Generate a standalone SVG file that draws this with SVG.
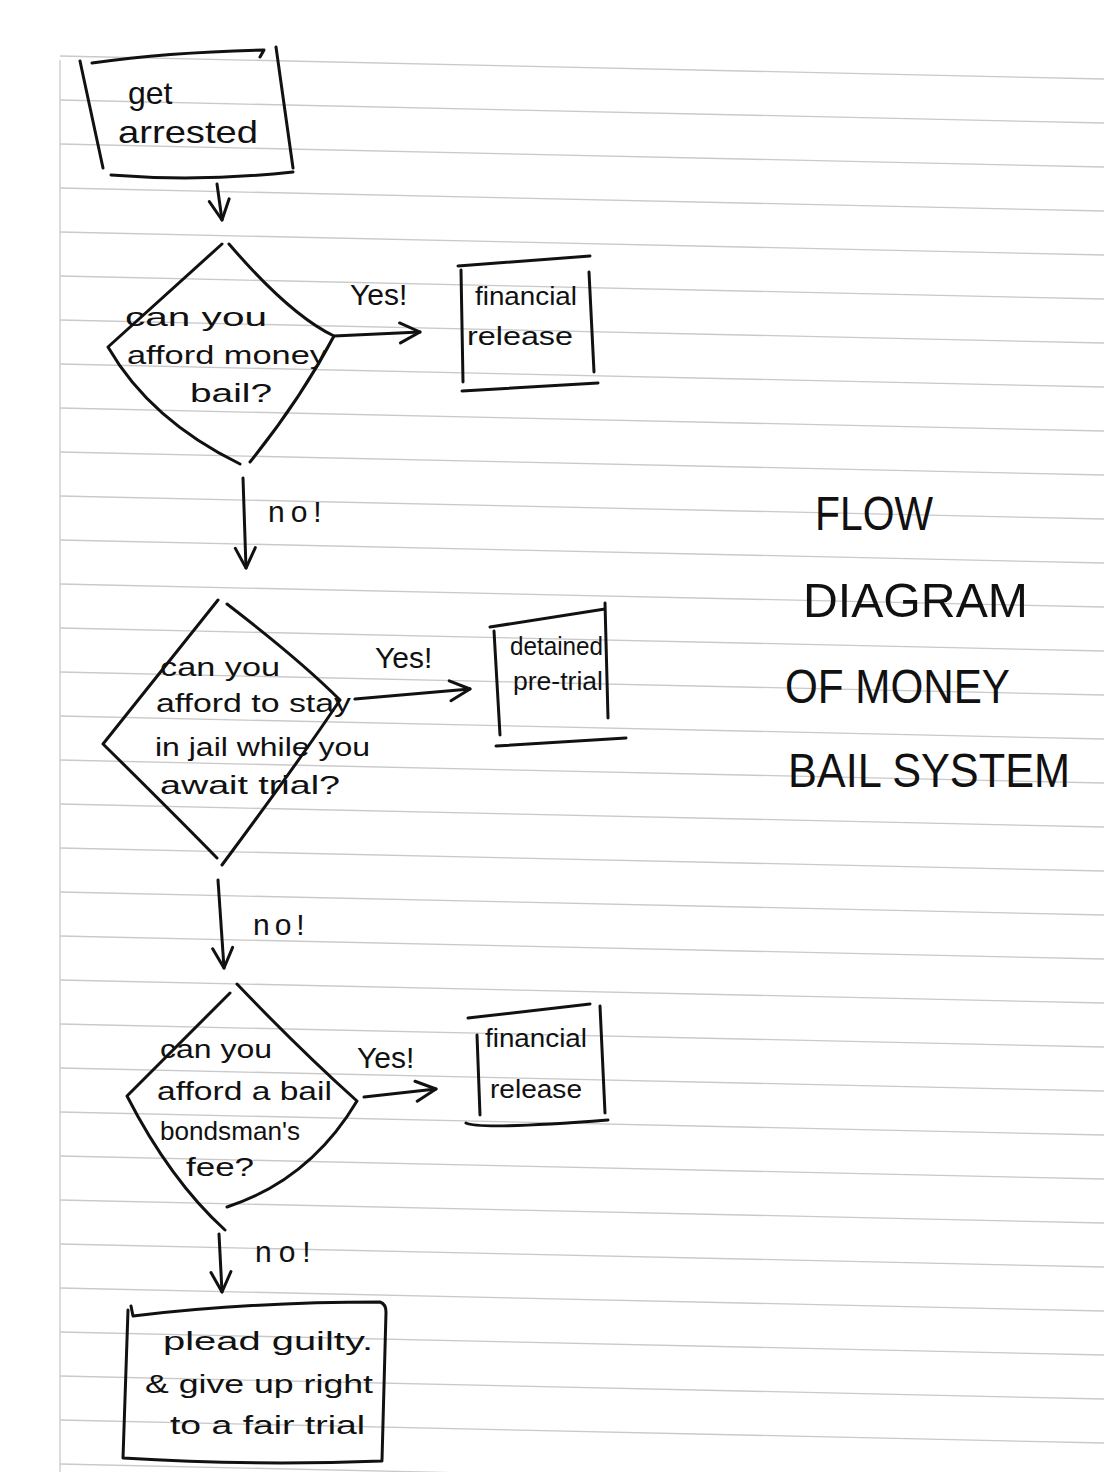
<svg xmlns="http://www.w3.org/2000/svg" width="1104" height="1472" viewBox="0 0 1104 1472">
<style>
.ink{fill:none;stroke:#111;stroke-width:3;stroke-linecap:round;stroke-linejoin:round}
.rule{stroke:#c9c9c9;stroke-width:1.3}
.t{font-family:"Liberation Sans",Arial,sans-serif;fill:#111;font-size:26px}
.big{font-size:32px}
.lbl{font-family:"Liberation Sans",Arial,sans-serif;fill:#111;font-size:30px}
.title{font-family:"Liberation Sans",Arial,sans-serif;fill:#111;font-size:48px}
</style>
<defs>
<marker id="ah" viewBox="0 0 12 12" refX="11" refY="6" markerWidth="24" markerHeight="24" markerUnits="userSpaceOnUse" orient="auto">
<path d="M1,1 L11,6 L1,11" fill="none" stroke="#111" stroke-width="1.5" stroke-linecap="round" stroke-linejoin="round"/>
</marker>
</defs>
<rect width="1104" height="1472" fill="#fff"/>
<g id="paper">
<line class="rule" x1="60" y1="56" x2="1104" y2="79"/>
<line class="rule" x1="60" y1="100" x2="1104" y2="123"/>
<line class="rule" x1="60" y1="144" x2="1104" y2="167"/>
<line class="rule" x1="60" y1="188" x2="1104" y2="211"/>
<line class="rule" x1="60" y1="232" x2="1104" y2="255"/>
<line class="rule" x1="60" y1="276" x2="1104" y2="299"/>
<line class="rule" x1="60" y1="320" x2="1104" y2="343"/>
<line class="rule" x1="60" y1="364" x2="1104" y2="387"/>
<line class="rule" x1="60" y1="408" x2="1104" y2="431"/>
<line class="rule" x1="60" y1="452" x2="1104" y2="475"/>
<line class="rule" x1="60" y1="496" x2="1104" y2="519"/>
<line class="rule" x1="60" y1="540" x2="1104" y2="563"/>
<line class="rule" x1="60" y1="584" x2="1104" y2="607"/>
<line class="rule" x1="60" y1="628" x2="1104" y2="651"/>
<line class="rule" x1="60" y1="672" x2="1104" y2="695"/>
<line class="rule" x1="60" y1="716" x2="1104" y2="739"/>
<line class="rule" x1="60" y1="760" x2="1104" y2="783"/>
<line class="rule" x1="60" y1="804" x2="1104" y2="827"/>
<line class="rule" x1="60" y1="848" x2="1104" y2="871"/>
<line class="rule" x1="60" y1="892" x2="1104" y2="915"/>
<line class="rule" x1="60" y1="936" x2="1104" y2="959"/>
<line class="rule" x1="60" y1="980" x2="1104" y2="1003"/>
<line class="rule" x1="60" y1="1024" x2="1104" y2="1047"/>
<line class="rule" x1="60" y1="1068" x2="1104" y2="1091"/>
<line class="rule" x1="60" y1="1112" x2="1104" y2="1135"/>
<line class="rule" x1="60" y1="1156" x2="1104" y2="1179"/>
<line class="rule" x1="60" y1="1200" x2="1104" y2="1223"/>
<line class="rule" x1="60" y1="1244" x2="1104" y2="1267"/>
<line class="rule" x1="60" y1="1288" x2="1104" y2="1311"/>
<line class="rule" x1="60" y1="1332" x2="1104" y2="1355"/>
<line class="rule" x1="60" y1="1376" x2="1104" y2="1399"/>
<line class="rule" x1="60" y1="1420" x2="1104" y2="1443"/>
<line class="rule" x1="60" y1="1464" x2="1104" y2="1487"/>
<line class="rule" x1="60" y1="60" x2="60" y2="1472"/>
</g>
<g id="connectors">
<path class="ink" d="M217,184 L222,220" marker-end="url(#ah)"/>
<path class="ink" d="M334,336 L420,332" marker-end="url(#ah)"/>
<path class="ink" d="M243,478 L246,568" marker-end="url(#ah)"/>
<path class="ink" d="M355,699 L470,689" marker-end="url(#ah)"/>
<path class="ink" d="M218,880 L224,968" marker-end="url(#ah)"/>
<path class="ink" d="M364,1097 L436,1089" marker-end="url(#ah)"/>
<path class="ink" d="M219,1234 L222,1292" marker-end="url(#ah)"/>
<text class="lbl" x="350" y="305">Yes!</text>
<text class="lbl" x="268" y="522" letter-spacing="6">no!</text>
<text class="lbl" x="375" y="668">Yes!</text>
<text class="lbl" x="253" y="935" letter-spacing="5">no!</text>
<text class="lbl" x="357" y="1068">Yes!</text>
<text class="lbl" x="255" y="1262" letter-spacing="7">no!</text>
</g>
<g id="node-get-arrested">
<path class="ink" d="M80,61 L103,168 M92,63 Q170,52 264,50 L260,57 M276,47 L293,168 M111,175 Q200,182 293,172"/>
<text class="t big" x="128" y="104">get</text>
<text class="t big" x="118" y="143" textLength="140" lengthAdjust="spacingAndGlyphs">arrested</text>
</g>
<g id="node-decision-1">
<path class="ink" d="M222,244 L108,347 Q150,420 240,464 M229,244 Q290,315 334,336 Q300,400 250,462"/>
<text class="t" x="125" y="326" textLength="142" lengthAdjust="spacingAndGlyphs">can you</text>
<text class="t" x="127" y="364" textLength="200" lengthAdjust="spacingAndGlyphs">afford money</text>
<text class="t" x="190" y="402" textLength="82" lengthAdjust="spacingAndGlyphs">bail?</text>
</g>
<g id="node-financial-release-1">
<path class="ink" d="M458,266 L590,256 M461,270 L463,382 M589,272 L594,372 M462,391 L598,383"/>
<text class="t" x="475" y="305" textLength="102" lengthAdjust="spacingAndGlyphs">financial</text>
<text class="t" x="467" y="345" textLength="106" lengthAdjust="spacingAndGlyphs">release</text>
</g>
<g id="node-decision-2">
<path class="ink" d="M218,600 L103,744 Q170,810 217,858 M227,604 Q300,660 340,700 Q300,760 222,865"/>
<text class="t" x="160" y="676" textLength="120" lengthAdjust="spacingAndGlyphs">can you</text>
<text class="t" x="156" y="712" textLength="195" lengthAdjust="spacingAndGlyphs">afford to stay</text>
<text class="t" x="155" y="756" textLength="215" lengthAdjust="spacingAndGlyphs">in jail while you</text>
<text class="t" x="160" y="794" textLength="180" lengthAdjust="spacingAndGlyphs">await trial?</text>
</g>
<g id="node-detained">
<path class="ink" d="M490,627 L605,609 M494,631 L500,735 M605,603 L608,718 M496,746 L626,738"/>
<text class="t" x="510" y="655" textLength="93" lengthAdjust="spacingAndGlyphs">detained</text>
<text class="t" x="513" y="690" textLength="90" lengthAdjust="spacingAndGlyphs">pre-trial</text>
</g>
<g id="node-decision-3">
<path class="ink" d="M230,993 L127,1096 Q170,1180 225,1230 M237,984 Q300,1050 357,1101 Q310,1180 227,1207"/>
<text class="t" x="160" y="1058" textLength="112" lengthAdjust="spacingAndGlyphs">can you</text>
<text class="t" x="157" y="1100" textLength="175" lengthAdjust="spacingAndGlyphs">afford a bail</text>
<text class="t" x="160" y="1140" textLength="140" lengthAdjust="spacingAndGlyphs">bondsman's</text>
<text class="t" x="186" y="1176" textLength="68" lengthAdjust="spacingAndGlyphs">fee?</text>
</g>
<g id="node-financial-release-2">
<path class="ink" d="M468,1018 L590,1004 M477,1035 L480,1115 M600,1006 L605,1113 M466,1123 Q480,1130 608,1120"/>
<text class="t" x="485" y="1047" textLength="102" lengthAdjust="spacingAndGlyphs">financial</text>
<text class="t" x="490" y="1098" textLength="92" lengthAdjust="spacingAndGlyphs">release</text>
</g>
<g id="node-plead-guilty">
<path class="ink" d="M131,1306 L133,1316 Q250,1302 380,1302 Q386,1304 386,1312 L382,1460 M128,1310 L123,1458 Q250,1466 382,1461"/>
<text class="t" x="163" y="1350" textLength="210" lengthAdjust="spacingAndGlyphs">plead guilty.</text>
<text class="t" x="145" y="1393" textLength="228" lengthAdjust="spacingAndGlyphs">&amp; give up right</text>
<text class="t" x="170" y="1434" textLength="195" lengthAdjust="spacingAndGlyphs">to a fair trial</text>
</g>
<g id="title">
<text class="title" x="815" y="530" textLength="118" lengthAdjust="spacingAndGlyphs">FLOW</text>
<text class="title" x="803" y="617" textLength="225" lengthAdjust="spacingAndGlyphs">DIAGRAM</text>
<text class="title" x="785" y="703" textLength="225" lengthAdjust="spacingAndGlyphs">OF MONEY</text>
<text class="title" x="788" y="787" textLength="282" lengthAdjust="spacingAndGlyphs">BAIL SYSTEM</text>
</g>
</svg>
